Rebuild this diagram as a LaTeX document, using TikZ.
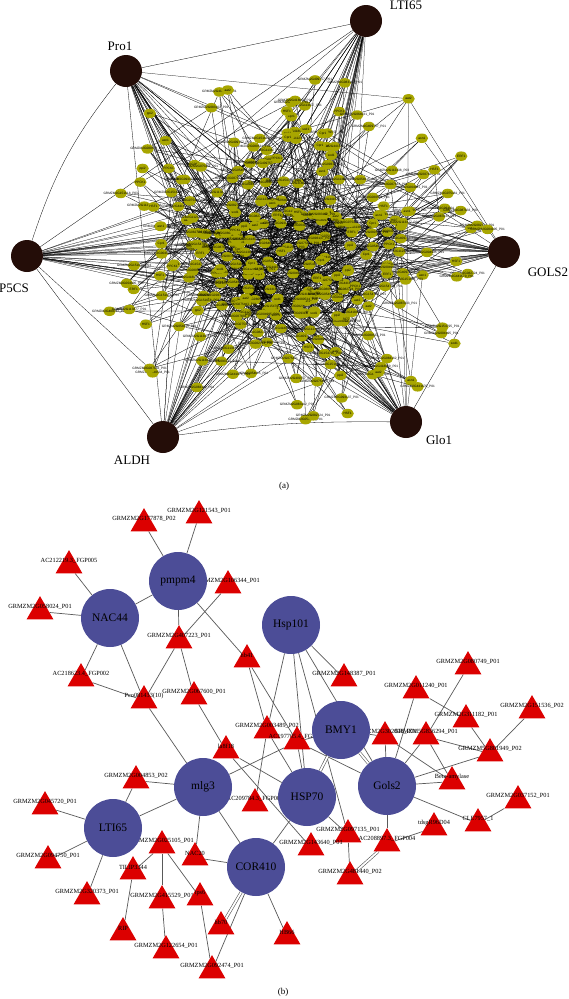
\documentclass[tikz,border=0pt]{standalone}
\usepackage{fontspec}
\setmainfont{Liberation Serif}
\setsansfont{Liberation Sans}
\usetikzlibrary{shapes.geometric,backgrounds}
\pgfdeclarelayer{edges}
\pgfsetlayers{background,edges,main}

\definecolor{hubbrown}{RGB}{36,13,8}
\definecolor{olivenode}{RGB}{168,166,0}
\definecolor{hubblue}{RGB}{76,77,151}
\definecolor{trired}{RGB}{220,0,0}

% tiny gene ids cycled over the small nodes of panel (a)
\newcommand\gname[1]{\ifcase#1 GRMZM2G112338\_P03\or GRMZM2G004995\_P01\or Cpr1\or
  GRMZM2G064031\_P01\or GRMZM2G151618\_P03\or asn1\or GRMZM2G409757\_P01\or
  GRMZM2G113877\_P01\or HSF1\or GRMZM2G054615\_P01\or GRMZM2G087833\_P01\or
  ppi2\or GRMZM2G441670\_P01\or GRMZM2G083162\_P01\or PPCK1\or
  GRMZM2G154795\_P01\or GRMZM2G080534\_P01\or ERF1\or GRMZM2G418060\_P01\or
  GRMZM2G093137\_P01\or sod1\or GRMZM2G075461\_P01\or GRMZM2G082724\_P01\or
  aat2\fi}

\begin{document}
\begin{tikzpicture}[
  x=1pt, y=-1pt,
  bighub/.style={circle, fill=hubbrown, minimum size=32pt, inner sep=0pt},
  hublab/.style={font=\fontsize{13}{13}\selectfont},
  gnode/.style={ellipse, fill=olivenode, minimum width=12.5pt, minimum height=9.5pt, inner sep=0pt},
  glab/.style={font=\sffamily\fontsize{3.2}{3.2}\selectfont, inner sep=0pt, text=black},
  fan/.style={draw=black, line width=0.25pt},
  web/.style={draw=black, line width=0.3pt},
  pnode/.style={circle, fill=hubblue, minimum size=58pt, inner sep=0pt, font=\fontsize{11.5}{11.5}\selectfont},
  tnode/.style={regular polygon, regular polygon sides=3, fill=trired, minimum size=31pt, inner sep=0pt, yshift=-3.6pt},
  tlab/.style={font=\fontsize{6.3}{6.3}\selectfont, text=black, inner sep=0pt},
  link/.style={draw=black!65, line width=0.7pt},
  dlink/.style={draw=black!65, line width=0.6pt, double=white, double distance=1.8pt},
  ptitle/.style={font=\fontsize{9}{9}\selectfont},
]
\begin{pgfonlayer}{background}
  \fill[white] (0,0) rectangle (569,999);
\end{pgfonlayer}
\useasboundingbox (0,0) rectangle (569,999);

% ============================== PANEL (a) ==============================
\pgfmathsetseed{2718}
% one cluster of small nodes in front of each hub (tight bundles)
\foreach \tx/\ty [count=\c] in {232/238, 312/215, 212/250, 372/250, 318/315, 235/305}{
  \foreach \k in {1,...,16}{
    \pgfmathtruncatemacro{\i}{16*(\c-1)+\k}
    \pgfmathsetmacro{\sx}{\tx+30*(rand+rand)}
    \pgfmathsetmacro{\sy}{\ty+24*(rand+rand)}
    \coordinate (p\i) at (\sx,\sy);
  }
}
% the looser cloud around them
\foreach \i in {97,...,300}{
  \ifnum\i<201
    \pgfmathsetmacro{\sx}{292+100*(rand+rand)}
    \pgfmathsetmacro{\sy}{250+82*(rand+rand)}
  \else
    \pgfmathsetmacro{\rr}{sqrt(rnd)}
    \pgfmathsetmacro{\aa}{360*rnd}
    \pgfmathsetmacro{\sx}{292+205*\rr*cos(\aa)}
    \pgfmathsetmacro{\sy}{248+182*\rr*sin(\aa)}
  \fi
  \coordinate (p\i) at (\sx,\sy);
}
\foreach \i in {1,...,300}{
  \pgfmathtruncatemacro{\m}{mod(\i,24)}
  \node[gnode] (s\i) at (p\i) {};
  \node[glab] (s\i-l) at (p\i) {\gname{\m}};
}

% hubs
\node[bighub] (pro) at (126,71)  {};
\node[bighub] (lti) at (366,21)  {};
\node[bighub] (pcs) at (27,256)  {};
\node[bighub] (gol) at (504,252) {};
\node[bighub] (glo) at (406,422) {};
\node[bighub] (ald) at (163,437) {};
\node[hublab] (lti-l) at (406,5)   {LTI65};
\node[hublab] (pro-l) at (120,46)  {Pro1};
\node[hublab] (pcs-l) at (14,288)  {P5CS};
\node[hublab] (gol-l) at (548,272) {GOLS2};
\node[hublab] (glo-l) at (439,440) {Glo1};
\node[hublab] (ald-l) at (132,460) {ALDH};

\begin{pgfonlayer}{edges}
  % every hub fans out into its own cluster and the core
  \foreach \h [count=\c] in {pro,lti,pcs,gol,glo,ald}{
    \foreach \k in {1,...,16}{
      \pgfmathtruncatemacro{\j}{16*(\c-1)+\k}
      \draw[fan] (\h) -- (s\j);
    }
    \foreach \k in {1,...,10}{
      \pgfmathrandominteger{\j}{1}{96}
      \draw[fan] (\h) -- (s\j);
    }
    \foreach \k in {1,...,6}{
      \pgfmathrandominteger{\j}{97}{300}
      \draw[fan] (\h) -- (s\j);
    }
  }
  % interactions among the small nodes
  \foreach \i in {1,...,300}{
    \pgfmathrandominteger{\j}{1}{300}
    \draw[web] (s\i) -- (s\j);
    \pgfmathrandominteger{\j}{1}{96}
    \draw[web] (s\i) -- (s\j);
  }
  \draw[web] (pro) -- (lti);
  \draw[web] (lti) -- (pcs);
  \draw[web] (pro) to[bend right=10] (pcs);
  \draw[web] (pro) -- (ald);
  \draw[web] (pcs) -- (ald);
  \draw[web] (ald) to[bend left=4] (glo);
  \draw[web] (glo) -- (gol);
\end{pgfonlayer}

\node[ptitle] (cap-a) at (284,486) {(a)};

% ============================== PANEL (b) ==============================
% red triangles: genes, each with its id on top
\foreach \n/\x/\y/\t in {
  g1/144/520/GRMZM2G177878\_P02, g2/199/512/GRMZM2G121543\_P01,
  g3/69/562/AC212219.3\_FGP005, g4/228/582/GRMZM2G106344\_P01,
  g5/40/608/GRMZM2G058024\_P01, g6/179/637/GRMZM2G407223\_P01,
  g7/247/656/hb41, g8/81/675/AC218623.4\_FGP002,
  g9/144/697/Pco081433(10), g10/194/693/GRMZM2G067600\_P01,
  g11/226/747/la8f18, g12/267/727/GRMZM2G003489\_P02,
  g13/297/738/AC197705.4\_FGP004, g14/255/800/AC209784.3\_FGP001,
  g15/136/777/GRMZM2G004853\_P02, g16/45/803/GRMZM2G045720\_P01,
  g17/48/857/GRMZM2G094750\_P01, g18/87/893/GRMZM2G320373\_P01,
  g19/162/842/GRMZM2G025105\_P01, g20/133/868/TILIP3344,
  g21/195/854/NAC20, g22/162/897/GRMZM2G415529\_P01,
  g23/200/894/tps6, g24/123/929/RIP,
  g25/166/947/GRMZM2G122654\_P01, g26/221/923/hb70,
  g27/212/967/GRMZM2G092474\_P01, g28/287/933/HB66,
  g29/344/675/GRMZM2G148387\_P01, g30/468/663/GRMZM2G080749\_P01,
  g31/416/687/GRMZM2G011240\_P01, g32/466/716/GRMZM2G311182\_P01,
  g33/532/707/GRMZM2G151536\_P02, g34/385/733/GRMZM2G302808\_P01,
  g35/426/733/GRMZM5G836294\_P01, g36/490/750/GRMZM5G801949\_P02,
  g37/452/778/Beta-amylase, g38/518/797/GRMZM2G037152\_P01,
  g39/478/820/CLE7957\_1, g40/434/824/tdsgR96D04,
  g41/348/831/GRMZM2G097135\_P01, g42/387/840/AC208897.3\_FGP004,
  g43/311/844/GRMZM2G143640\_P01, g44/350/873/GRMZM2G481440\_P02}{
  \node[tnode] (\n) at (\x,\y) {};
  \node[tlab] (\n-l) at (\x,\y-1) {\t};
}

% blue circles: hubs
\node[pnode] (pmpm) at (178,581) {pmpm4};
\node[pnode] (nac)  at (110,618) {NAC44};
\node[pnode] (hspA) at (291,625) {Hsp101};
\node[pnode] (bmy)  at (341,730) {BMY1};
\node[pnode] (mlg)  at (203,787) {mlg3};
\node[pnode] (hspB) at (307,797) {HSP70};
\node[pnode] (gols) at (387,786) {Gols2};
\node[pnode] (lti2) at (113,828) {LTI65};
\node[pnode] (cor)  at (256,867) {COR410};

\begin{pgfonlayer}{edges}
  \foreach \a/\b in {pmpm/g1, pmpm/g2, pmpm/nac, pmpm/g6, pmpm/g7,
      g4/g6, g6/g9, g6/g10, nac/g3, nac/g5, nac/g8, nac/g9, g8/g9,
      g9/mlg, g10/g11, g11/hspB, g11/g43,
      mlg/g15, mlg/lti2, mlg/g21, mlg/cor, mlg/g13,
      g15/lti2, lti2/g16, lti2/g17, lti2/g18,
      g19/g20, g19/g22, g19/g23, g20/g24, g22/g25, g23/g27,
      g21/cor, cor/g27, cor/g28, cor/hspB,
      g7/g12, g7/g13, g12/g14, g12/hspB, g13/hspB, g13/gols, bmy/g13, bmy/g34,
      hspA/g12, hspA/hspB, hspA/g41, hspA/gols, hspA/g29,
      hspB/g41, g41/g44, g42/g40, gols/g42,
      gols/g34, gols/g31, gols/g35, g35/g30, g31/g32, g32/g36, g33/g36,
      gols/g36, gols/g37, g34/g37, g35/g37, g35/g36, gols/g39, g39/g38}{
    \draw[link] (\a) -- (\b);
  }
  % repeated interactions
  \foreach \a/\b in {hspB/bmy, bmy/gols, g44/g42, cor/g26}{
    \draw[dlink] (\a) -- (\b);
  }
\end{pgfonlayer}

\node[ptitle] (cap-b) at (283,992) {(b)};
\end{tikzpicture}
\end{document}
